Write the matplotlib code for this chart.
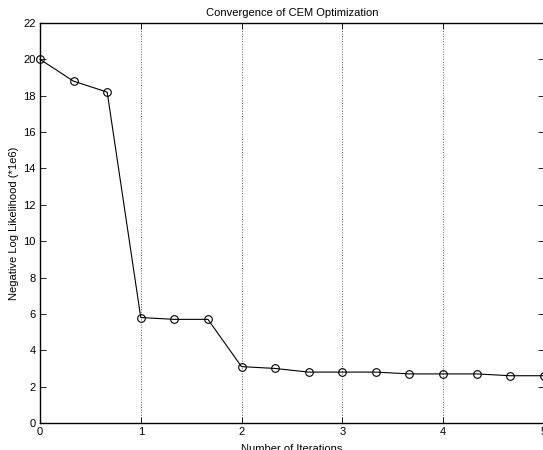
import numpy as np
import matplotlib
matplotlib.use("Agg")
import matplotlib.pyplot as plt

plt.rcParams['font.family'] = ['Liberation Sans', 'DejaVu Sans']

# iterations (3 samples per iteration) and likelihood values (*1e6)
iterations = [0, 1/3, 2/3, 1, 4/3, 5/3, 2, 7/3, 8/3, 3, 10/3, 11/3, 4, 13/3, 14/3, 5]
neg_loglik = [20.0, 18.8, 18.2, 5.8, 5.7, 5.7, 3.1, 3.0, 2.8, 2.8, 2.8, 2.7, 2.7, 2.7, 2.6, 2.6]
xticks = [0, 1, 2, 3, 4, 5]
yticks = list(range(0, 23, 2))

fig = plt.figure(figsize=(5.43, 4.5), dpi=100)
ax = fig.add_axes([40/543, 27/450, 503.8/543, 400/450])

ax.plot(iterations, neg_loglik, '-', color='black', linewidth=0.8,
        marker='o', markersize=5.5, markerfacecolor='none', markeredgecolor='black',
        markeredgewidth=0.8, clip_on=False)

ax.set_xlim(0, 5)
ax.set_ylim(0, 22)
ax.set_xticks(xticks)
ax.set_yticks(yticks)
ax.tick_params(direction='in', top=True, right=True, length=4, width=0.6,
               labelsize=8, pad=3)
ax.xaxis.grid(True, linestyle=':', color='#666666', linewidth=0.7)

for s in ax.spines.values():
    s.set_linewidth(1.0)

ax.set_title("Convergence of CEM Optimization", fontsize=8, pad=5)
ax.set_xlabel("Number of Iterations", fontsize=8, labelpad=5)
ax.set_ylabel("Negative Log Likelihood (*1e6)", fontsize=8, labelpad=3)

fig.savefig("out.png", dpi=100)
